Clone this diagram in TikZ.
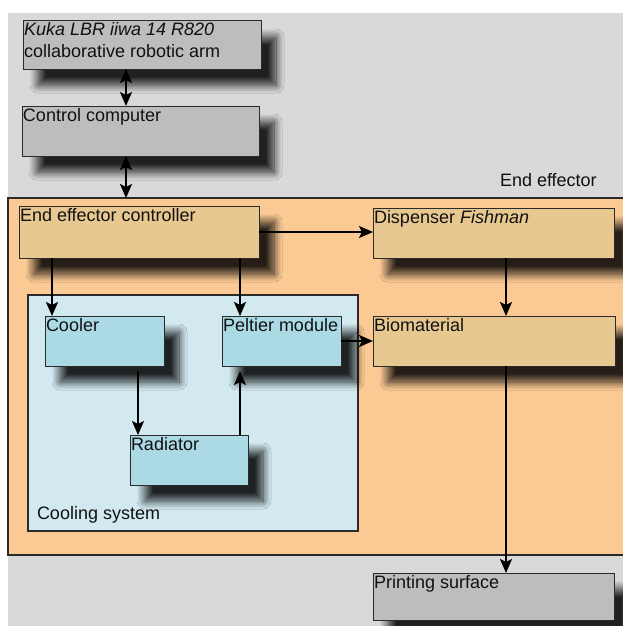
\documentclass[tikz,border=0pt]{standalone}
\usepackage{fontspec}
\setmainfont{Liberation Sans}
\usetikzlibrary{arrows.meta,shadows.blur}
\definecolor{bggray}{HTML}{D9D9D9}
\definecolor{graybox}{HTML}{BEBDBD}
\definecolor{eeorange}{HTML}{FBC994}
\definecolor{tanbox}{HTML}{E8C891}
\definecolor{coolblue}{HTML}{D1E9EF}
\definecolor{bluebox}{HTML}{ABDAE5}
\definecolor{edge}{HTML}{2A2A2A}
\definecolor{ink}{HTML}{111111}
\tikzset{
  region/.style={draw=edge, line width=1.2pt, inner sep=0pt, outer sep=0pt, anchor=north west},
  box/.style={draw=edge, line width=1pt, inner sep=0pt, outer sep=0pt, anchor=north west,
    blur shadow={shadow xshift=15pt, shadow yshift=-16pt, shadow blur radius=8pt, shadow blur steps=14, shadow opacity=85}},
  lbl/.style={inner sep=0pt, outer sep=0pt, anchor=base west, text=ink},
  arr/.style={draw=black, line width=2pt, -{Stealth[length=14pt,width=12pt,inset=3pt]}},
  dblarr/.style={draw=black, line width=2pt, {Stealth[length=14pt,width=12pt,inset=3pt]}-{Stealth[length=14pt,width=12pt,inset=3pt]}}
}
\begin{document}
\begin{tikzpicture}[x=1pt,y=-1pt,font=\fontsize{18}{19.5}\selectfont]
\useasboundingbox (0,0) rectangle (623,626);
\fill[bggray] (8,13) rectangle (623,626);

% regions
\node[region, fill=eeorange, minimum width=617pt, minimum height=357pt] (ee) at (8,198) {};
\node[lbl] (t-ee) at (500,186) {End effector};
\node[region, fill=coolblue, minimum width=330pt, minimum height=236pt] (cs) at (28,295) {};
\node[lbl] (t-cs) at (37,519) {Cooling system};

% boxes
\node[box, fill=graybox, minimum width=238pt, minimum height=48pt] (kuka) at (23,21) {};
\node[box, fill=graybox, minimum width=237pt, minimum height=50pt] (cc) at (22,106) {};
\node[box, fill=tanbox, minimum width=240pt, minimum height=52pt] (eec) at (19,206) {};
\node[box, fill=tanbox, minimum width=241pt, minimum height=50pt] (disp) at (373,208) {};
\node[box, fill=tanbox, minimum width=242pt, minimum height=50pt] (bio) at (373,316) {};
\node[box, fill=bluebox, minimum width=119pt, minimum height=50pt] (cooler) at (45,316) {};
\node[box, fill=bluebox, minimum width=119pt, minimum height=50pt] (pelt) at (222,316) {};
\node[box, fill=bluebox, minimum width=118pt, minimum height=50pt] (rad) at (130,435) {};
\node[box, fill=graybox, minimum width=241pt, minimum height=47pt] (print) at (373,573) {};

% labels
\node[lbl] (t-kuka1) at ([xshift=1pt,yshift=-15pt]kuka.north west) {\itshape Kuka LBR iiwa 14 R820};
\node[lbl] (t-kuka2) at ([xshift=1pt,yshift=-36pt]kuka.north west) {collaborative robotic arm};
\node[lbl] (t-cc) at ([xshift=1pt,yshift=-15pt]cc.north west) {Control computer};
\node[lbl] (t-eec) at ([xshift=1pt,yshift=-15pt]eec.north west) {End effector controller};
\node[lbl] (t-disp) at ([xshift=1pt,yshift=-15pt]disp.north west) {Dispenser \itshape Fishman};
\node[lbl] (t-bio) at ([xshift=1pt,yshift=-15pt]bio.north west) {Biomaterial};
\node[lbl] (t-cooler) at ([xshift=1pt,yshift=-15pt]cooler.north west) {Cooler};
\node[lbl] (t-pelt) at ([xshift=1pt,yshift=-15pt]pelt.north west) {Peltier module};
\node[lbl] (t-rad) at ([xshift=1pt,yshift=-15pt]rad.north west) {Radiator};
\node[lbl] (t-print) at ([xshift=1pt,yshift=-15pt]print.north west) {Printing surface};

% x positions of vertical connectors
\coordinate (xa) at (126,0);
\coordinate (xb) at (52,0);
\coordinate (xc) at (240,0);
\coordinate (xd) at (506,0);
\coordinate (xe) at (138,0);

% connectors
\draw[dblarr] (kuka.south -| xa) -- (cc.north -| xa);
\draw[dblarr] (cc.south -| xa) -- (ee.north -| xa);
\draw[arr] (eec.east) -- (eec.east -| disp.west);
\draw[arr] (eec.south -| xb) -- (cooler.north -| xb);
\draw[arr] (eec.south -| xc) -- (pelt.north -| xc);
\draw[arr] (disp.south -| xd) -- (bio.north -| xd);
\draw[arr] (pelt.east) -- (pelt.east -| bio.west);
\draw[arr, shorten <=5pt] (cooler.south -| xe) -- (rad.north -| xe);
\draw[arr, shorten >=5pt] (rad.north -| xc) -- (pelt.south -| xc);
\draw[arr] (bio.south -| xd) -- (print.north -| xd);
\end{tikzpicture}
\end{document}
